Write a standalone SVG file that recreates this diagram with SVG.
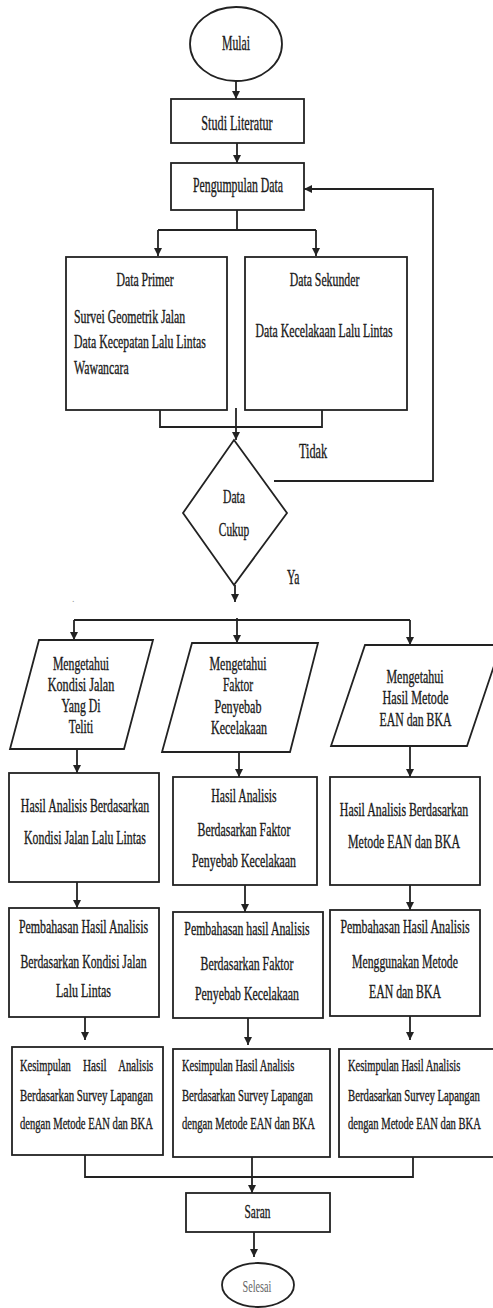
<svg xmlns="http://www.w3.org/2000/svg" width="493" height="1308" viewBox="0 0 493 1308">
<style>
.s{fill:#fff;stroke:#222;stroke-width:1.8}
.c{fill:none;stroke:#222;stroke-width:1.8}
text{font-family:"Liberation Serif","Times New Roman",serif;font-size:19px;fill:#1a1a1a;stroke:#1a1a1a;stroke-width:0.35}
.m{text-anchor:middle}
.l{text-anchor:start}
.k{font-size:17px}
</style>
<defs>
<marker id="ah" viewBox="0 0 8 10" refX="8" refY="5" markerWidth="8" markerHeight="10" markerUnits="userSpaceOnUse" orient="auto">
<path d="M0,1 L8,5 L0,9 Z" fill="#222"/>
</marker>
</defs>
<g id="connectors">
<path class="c" d="M236 81 V99" marker-end="url(#ah)"/>
<path class="c" d="M237 143 V163" marker-end="url(#ah)"/>
<path class="c" d="M237 210 V230 M158 230 H316"/>
<path class="c" d="M158 230 V256" marker-end="url(#ah)"/>
<path class="c" d="M316 230 V256" marker-end="url(#ah)"/>
<path class="c" d="M160 410 V427 H322 V410"/>
<path class="c" d="M236 408 V440" marker-end="url(#ah)"/>
<path class="c" d="M274 481 H433 V189 H304" marker-end="url(#ah)"/>
<path class="c" d="M235 585 V602" marker-end="url(#ah)"/>
<path class="c" d="M74 620 H410"/>
<path class="c" d="M74 620 V640" marker-end="url(#ah)"/>
<path class="c" d="M237 618 V643" marker-end="url(#ah)"/>
<path class="c" d="M410 620 V645" marker-end="url(#ah)"/>
<path class="c" d="M77 749 V773" marker-end="url(#ah)"/>
<path class="c" d="M239 752 V777" marker-end="url(#ah)"/>
<path class="c" d="M410 746 V777" marker-end="url(#ah)"/>
<path class="c" d="M77 882 V908" marker-end="url(#ah)"/>
<path class="c" d="M245 885 V912" marker-end="url(#ah)"/>
<path class="c" d="M410 885 V910" marker-end="url(#ah)"/>
<path class="c" d="M85 1017 V1040" marker-end="url(#ah)"/>
<path class="c" d="M248 1018 V1045" marker-end="url(#ah)"/>
<path class="c" d="M410 1016 V1040" marker-end="url(#ah)"/>
<path class="c" d="M85 1155 V1177 H413 V1157"/>
<path class="c" d="M252 1157 V1193" marker-end="url(#ah)"/>
<path class="c" d="M254 1232 V1257" marker-end="url(#ah)"/>
</g>
<g id="mulai">
<ellipse class="s" cx="236" cy="44" rx="46" ry="37"/>
<text class="m" transform="translate(236 50) scale(.56 1)" style="font-size:21px">Mulai</text>
</g>
<g id="studi">
<rect class="s" x="171" y="99" width="133" height="44"/>
<text class="m" transform="translate(237 130) scale(.58 1)" style="font-size:21px">Studi Literatur</text>
</g>
<g id="pengumpulan">
<rect class="s" x="171" y="163" width="133" height="47"/>
<text class="m" transform="translate(238 192) scale(.59 1)" style="font-size:20px">Pengumpulan Data</text>
</g>
<g id="primer">
<rect class="s" x="66" y="257" width="161" height="153"/>
<text class="m" transform="translate(145 286) scale(.62 1)">Data Primer</text>
<text class="l" transform="translate(74 323) scale(.62 1)">Survei Geometrik Jalan</text>
<text class="l" transform="translate(74 348) scale(.62 1)">Data Kecepatan Lalu Lintas</text>
<text class="l" transform="translate(74 374) scale(.62 1)">Wawancara</text>
</g>
<g id="sekunder">
<rect class="s" x="245" y="257" width="162" height="153"/>
<text class="m" transform="translate(324.5 286) scale(.62 1)">Data Sekunder</text>
<text class="m" transform="translate(324 337) scale(.62 1)">Data Kecelakaan Lalu Lintas</text>
</g>
<text class="l" transform="translate(299 458) scale(.613 1)" style="font-size:20px">Tidak</text>
<g id="cukup">
<polygon class="s" points="234,440 287,513 234,585 183,513"/>
<text class="m" transform="translate(234 503) scale(.613 1)">Data</text>
<text class="m" transform="translate(234 536) scale(.6 1)">Cukup</text>
</g>
<text class="l" transform="translate(287 584) scale(.58 1)" style="font-size:20px">Ya</text>
<text x="72" y="602" style="font-size:10px;fill:#999;stroke:none">.</text>
<g id="p1">
<polygon class="s" points="39,640 153,640 124,749 10,749"/>
<text class="m" transform="translate(81 670) scale(.62 1)">Mengetahui</text>
<text class="m" transform="translate(81 691) scale(.64 1)">Kondisi Jalan</text>
<text class="m" transform="translate(81 712) scale(.62 1)">Yang Di</text>
<text class="m" transform="translate(81 733) scale(.61 1)">Teliti</text>
</g>
<g id="p2">
<polygon class="s" points="192,643 318,643 290,752 162,752"/>
<text class="m" transform="translate(238 670) scale(.628 1)">Mengetahui</text>
<text class="m" transform="translate(238 691) scale(.61 1)">Faktor</text>
<text class="m" transform="translate(238 713) scale(.636 1)">Penyebab</text>
<text class="m" transform="translate(239 734) scale(.632 1)">Kecelakaan</text>
</g>
<g id="p3">
<polygon class="s" points="365,645 501,645 467,746 331,746"/>
<text class="m" transform="translate(415 683) scale(.628 1)">Mengetahui</text>
<text class="m" transform="translate(415.5 704) scale(.64 1)">Hasil Metode</text>
<text class="m" transform="translate(415.5 726) scale(.62 1)">EAN dan BKA</text>
</g>
<g id="a1">
<rect class="s" x="9" y="773" width="150" height="109"/>
<text class="m" transform="translate(85 812) scale(.624 1)">Hasil Analisis Berdasarkan</text>
<text class="m" transform="translate(85 844) scale(.623 1)">Kondisi Jalan Lalu Lintas</text>
</g>
<g id="b1">
<rect class="s" x="173" y="777" width="144" height="108"/>
<text class="m" transform="translate(244 802) scale(.616 1)">Hasil Analisis</text>
<text class="m" transform="translate(244 836) scale(.623 1)">Berdasarkan Faktor</text>
<text class="m" transform="translate(244 867) scale(.622 1)">Penyebab Kecelakaan</text>
</g>
<g id="c1">
<rect class="s" x="330" y="777" width="150" height="108"/>
<text class="m" transform="translate(404 816) scale(.624 1)">Hasil Analisis Berdasarkan</text>
<text class="m" transform="translate(404 848) scale(.626 1)">Metode EAN dan BKA</text>
</g>
<g id="a2">
<rect class="s" x="9" y="908" width="150" height="109"/>
<text class="m" transform="translate(83.5 933) scale(.628 1)">Pembahasan Hasil Analisis</text>
<text class="m" transform="translate(83.5 968) scale(.619 1)">Berdasarkan Kondisi Jalan</text>
<text class="m" transform="translate(83.5 997) scale(.632 1)">Lalu Lintas</text>
</g>
<g id="b2">
<rect class="s" x="173" y="912" width="150" height="106"/>
<text class="m" transform="translate(247 935) scale(.622 1)">Pembahasan hasil Analisis</text>
<text class="m" transform="translate(247 970) scale(.623 1)">Berdasarkan Faktor</text>
<text class="m" transform="translate(247 1000) scale(.622 1)">Penyebab Kecelakaan</text>
</g>
<g id="c2">
<rect class="s" x="330" y="910" width="150" height="106"/>
<text class="m" transform="translate(405 933) scale(.628 1)">Pembahasan Hasil Analisis</text>
<text class="m" transform="translate(405 968) scale(.618 1)">Menggunakan Metode</text>
<text class="m" transform="translate(405 998) scale(.62 1)">EAN dan BKA</text>
</g>
<g id="a3">
<rect class="s" x="12" y="1047" width="151" height="108"/>
<text class="l k" transform="translate(20 1071) scale(.62 1)">Kesimpulan</text>
<text class="l k" transform="translate(83 1071) scale(.66 1)">Hasil</text>
<text class="l k" transform="translate(118.3 1071) scale(.628 1)">Analisis</text>
<text class="l k" transform="translate(20 1101) scale(.637 1)">Berdasarkan Survey Lapangan</text>
<text class="l k" transform="translate(20 1129) scale(.623 1)">dengan Metode EAN dan BKA</text>
</g>
<g id="b3">
<rect class="s" x="173" y="1049" width="157" height="108"/>
<text class="l k" transform="translate(182 1071) scale(.62 1)">Kesimpulan Hasil Analisis</text>
<text class="l k" transform="translate(182 1101) scale(.628 1)">Berdasarkan Survey Lapangan</text>
<text class="l k" transform="translate(182 1129) scale(.623 1)">dengan Metode EAN dan BKA</text>
</g>
<g id="c3">
<rect class="s" x="339" y="1049" width="160" height="108"/>
<text class="l k" transform="translate(348 1071) scale(.62 1)">Kesimpulan Hasil Analisis</text>
<text class="l k" transform="translate(348 1101) scale(.632 1)">Berdasarkan Survey Lapangan</text>
<text class="l k" transform="translate(348 1129) scale(.623 1)">dengan Metode EAN dan BKA</text>
</g>
<g id="saran">
<rect class="s" x="186" y="1193" width="144" height="39"/>
<text class="m" transform="translate(257.5 1218) scale(.6 1)">Saran</text>
</g>
<g id="selesai">
<ellipse class="s" cx="258" cy="1285" rx="36" ry="22"/>
<text class="m k" transform="translate(257 1292) scale(.6 1)" style="fill:#666;stroke:none">Selesai</text>
</g>
</svg>
